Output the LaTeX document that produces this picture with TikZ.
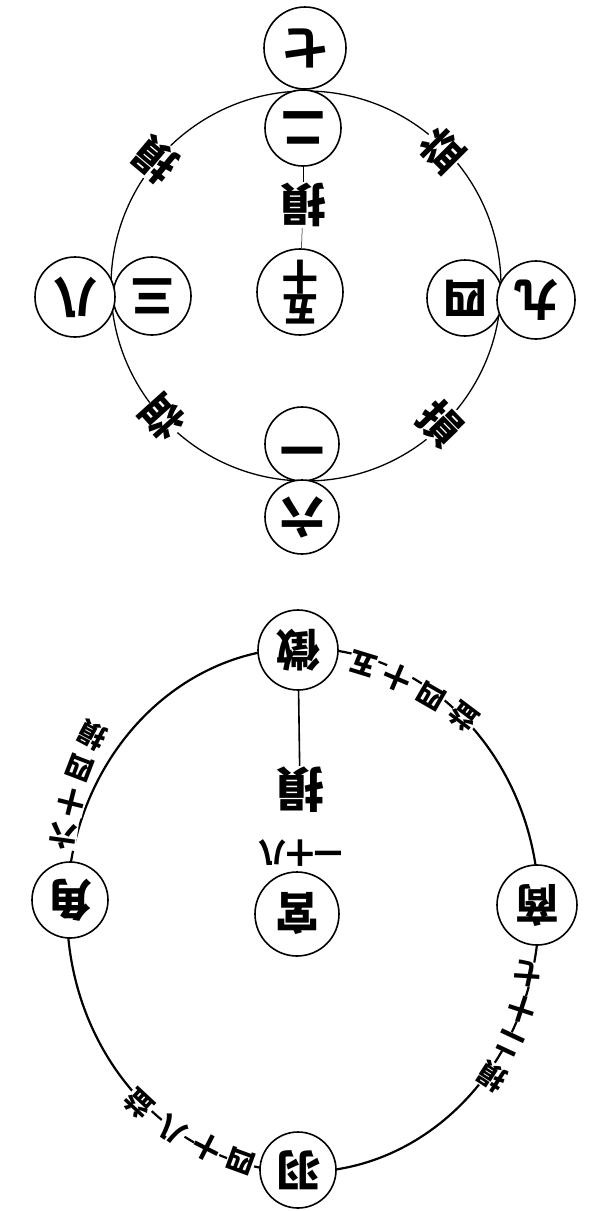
\documentclass[tikz,border=0pt]{standalone}
\usepackage{fontspec}
\newfontfamily\cjk{Noto Sans CJK TC}
\tikzset{
  disc/.style={circle,draw,line width=1.6pt,fill=white,inner sep=0pt,minimum size=76pt,
    font=\cjk\bfseries\fontsize{44}{44}\selectfont},
  ringchar/.style={fill=white,inner sep=1pt,font=\cjk\bfseries\fontsize{42}{42}\selectfont},
  numchar/.style={fill=white,inner sep=0pt,font=\cjk\bfseries\fontsize{28}{28}\selectfont},
}
\begin{document}
\begin{tikzpicture}[x=1pt,y=-1pt]
 \useasboundingbox (0,0) rectangle (589,1211);

 % upper figure
 \draw[line width=1.3pt] (306,286) circle[radius=195];
 \node[disc,minimum size=82pt,rotate=180] (seven) at (305,48) {七};
 \node[disc,rotate=180] (two) at (303,128) {二};
 \node[disc,minimum size=86pt,rotate=180,align=center,
   font=\cjk\bfseries\fontsize{36}{33}\selectfont] (fifteen) at (300,292) {五\\十};
 \node[disc,minimum size=78pt,rotate=180] (three) at (152,296) {三};
 \node[disc,minimum size=80pt,rotate=180] (eight) at (75,297) {八};
 \node[disc,rotate=180] (four) at (465,298) {四};
 \node[disc,minimum size=78pt,rotate=180] (nine) at (536,300) {九};
 \node[disc,minimum size=74pt,rotate=180] (one) at (302,444) {一};
 \node[disc,minimum size=74pt,rotate=180] (six) at (302,517) {六};
 \node[ringchar,font=\cjk\bfseries\fontsize{46}{46}\selectfont,rotate=180] (sunmid) at (303,205) {損};
 \draw[line width=1pt] (two) -- (sunmid);
 \draw[line width=0.5pt] (sunmid) -- (fifteen);
 \node[ringchar,rotate=140] (suntl) at (155,160) {損};
 \node[ringchar,rotate=45] (yitr) at (442,150) {益};
 \node[ringchar,rotate=222] (yibl) at (163,418) {益};
 \node[ringchar,rotate=-46] (sunbr) at (441,424) {損};

 % lower figure
 \draw[line width=2.2pt] (303,910) ellipse[x radius=236,y radius=262];
 \node[disc,minimum size=80pt,rotate=180] (zhi) at (298,650) {徵};
 \node[disc,minimum size=80pt,rotate=180] (shang) at (537,905) {商};
 \node[disc,rotate=180] (yu) at (298,1170) {羽};
 \node[disc,rotate=180] (jiao) at (70,900) {角};
 \node[disc,minimum size=84pt,rotate=180] (gong) at (297,914) {宮};
 \node[ringchar,font=\cjk\bfseries\fontsize{48}{48}\selectfont,rotate=180] (sunlow) at (300,790) {損};
 \node[numchar,rotate=180] (gongnum) at (300,853) {一十八};
 \draw[line width=1.6pt] (zhi) -- (sunlow);

 \node[numchar,rotate=163] (a1) at (363,664) {五};
 \node[numchar,rotate=157] (a2) at (397,678) {十};
 \node[numchar,rotate=150] (a3) at (431,696) {四};
 \node[numchar,rotate=143] (a4) at (464,717) {益};

 \node[numchar,rotate=168] (b1) at (528,974) {七};
 \node[numchar,rotate=162] (b2) at (522,1009) {十};
 \node[numchar,rotate=155] (b3) at (510,1043) {二};
 \node[numchar,rotate=147] (b4) at (492,1077) {損};

 \node[numchar,rotate=160] (c1) at (241,1161) {四};
 \node[numchar,rotate=153] (c2) at (207,1148) {十};
 \node[numchar,rotate=145] (c3) at (172,1130) {八};
 \node[numchar,rotate=137] (c4) at (139,1104) {益};

 \node[numchar,rotate=172] (d1) at (63,836) {六};
 \node[numchar,rotate=166] (d2) at (71,802) {十};
 \node[numchar,rotate=159] (d3) at (80,768) {四};
 \node[numchar,rotate=152] (d4) at (92,735) {損};
\end{tikzpicture}
\end{document}
